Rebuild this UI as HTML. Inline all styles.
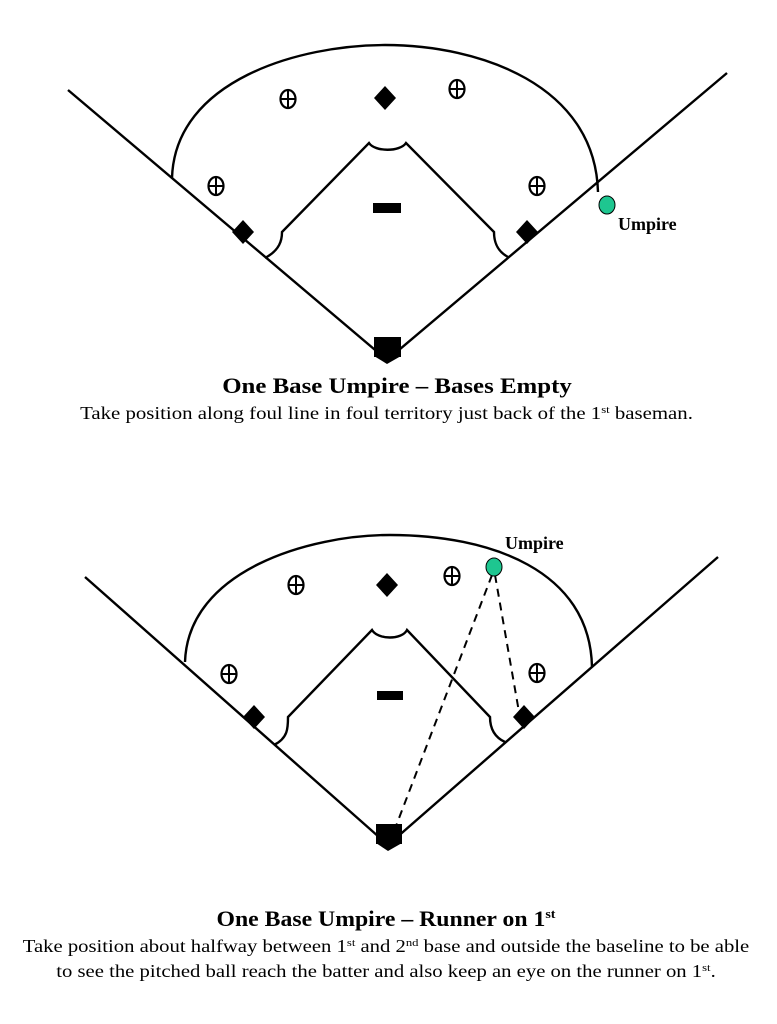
<!DOCTYPE html>
<html><head><meta charset="utf-8"><style>
html,body{margin:0;padding:0;background:#fff;}
svg{display:block;}
text{font-family:"Liberation Serif",serif;fill:#000;}
</style></head><body>
<svg width="777" height="1024" viewBox="0 0 777 1024" xmlns="http://www.w3.org/2000/svg">
<defs>
<g id="f"><ellipse cx="0" cy="0" rx="7.5" ry="9" fill="#fff" stroke="#000" stroke-width="2.2"/><line x1="0" y1="-9" x2="0" y2="9" stroke="#000" stroke-width="2"/><line x1="-7.5" y1="0" x2="7.5" y2="0" stroke="#000" stroke-width="2"/></g>
<g id="b"><polygon points="0,-12 11,0 0,12 -11,0" fill="#000"/></g>
</defs>
<g fill="none" stroke="#000" stroke-width="2.4">
<polyline points="68,90 387,360 727,73"/>
<path d="M172,178 C175,80 300,45 385,45 C480,45 595,85 598,192"/>
<path d="M265,258 C280,250 282,240 282,232 L369,143 C375,152 400,152 406,143 L494,232 C494,242 497,251 508,257"/>
</g>
<use href="#b" x="385" y="98"/>
<use href="#b" x="243" y="232"/>
<use href="#b" x="527" y="232"/>
<rect x="374" y="337" width="27" height="20" fill="#000"/>
<polygon points="374,356 401,356 387,364" fill="#000"/>
<rect x="373" y="203" width="28" height="10" fill="#000"/>
<use href="#f" x="288" y="99"/>
<use href="#f" x="457" y="89"/>
<use href="#f" x="216" y="186"/>
<use href="#f" x="537" y="186"/>
<ellipse cx="607" cy="205" rx="8" ry="9" fill="#1ec690" stroke="#000" stroke-width="1"/>
<text x="618" y="230" font-size="18" font-weight="bold">Umpire</text>
<g transform="translate(397,0) scale(1.13,1)"><text x="0" y="393" font-size="22" font-weight="bold" text-anchor="middle">One Base Umpire – Bases Empty</text></g>
<g transform="translate(386.5,0) scale(1.157,1)"><text x="0" y="419" font-size="18" text-anchor="middle">Take position along foul line in foul territory just back of the 1<tspan font-size="11" dy="-6">st</tspan><tspan dy="6"> baseman.</tspan></text></g>

<g fill="none" stroke="#000" stroke-width="2.4">
<polyline points="85,577 388,845 718,557"/>
<path d="M185,662 C188,570 310,535 390,535 C490,535 590,570 592,667"/>
<path d="M274,745 C288,738 288,728 288,717 L372,630 C378,640 402,640 407,630 L490,717 C490,728 494,737 505,742"/>
</g>
<g fill="none" stroke="#000" stroke-width="2" stroke-dasharray="8,6">
<line x1="492" y1="575" x2="396" y2="826"/>
<line x1="495" y1="575" x2="519" y2="712"/>
</g>
<use href="#b" x="387" y="585"/>
<use href="#b" x="254" y="717"/>
<use href="#b" x="524" y="717"/>
<rect x="376" y="824" width="26" height="20" fill="#000"/>
<polygon points="376,843 402,843 388,851" fill="#000"/>
<rect x="377" y="691" width="26" height="9" fill="#000"/>
<use href="#f" x="296" y="585"/>
<use href="#f" x="452" y="576"/>
<use href="#f" x="229" y="674"/>
<use href="#f" x="537" y="673"/>
<ellipse cx="494" cy="567" rx="8" ry="9" fill="#1ec690" stroke="#000" stroke-width="1"/>
<text x="505" y="549" font-size="18" font-weight="bold">Umpire</text>
<g transform="translate(386,0) scale(1.08,1)"><text x="0" y="926" font-size="22" font-weight="bold" text-anchor="middle">One Base Umpire – Runner on 1<tspan font-size="13" dy="-8">st</tspan></text></g>
<g transform="translate(386,0) scale(1.15,1)"><text x="0" y="952" font-size="18" text-anchor="middle">Take position about halfway between 1<tspan font-size="11" dy="-6">st</tspan><tspan dy="6"> and 2</tspan><tspan font-size="11" dy="-6">nd</tspan><tspan dy="6"> base and outside the baseline to be able</tspan></text>
<text x="0" y="977" font-size="18" text-anchor="middle">to see the pitched ball reach the batter and also keep an eye on the runner on 1<tspan font-size="11" dy="-6">st</tspan><tspan dy="6">.</tspan></text></g>
</svg>
</body></html>
